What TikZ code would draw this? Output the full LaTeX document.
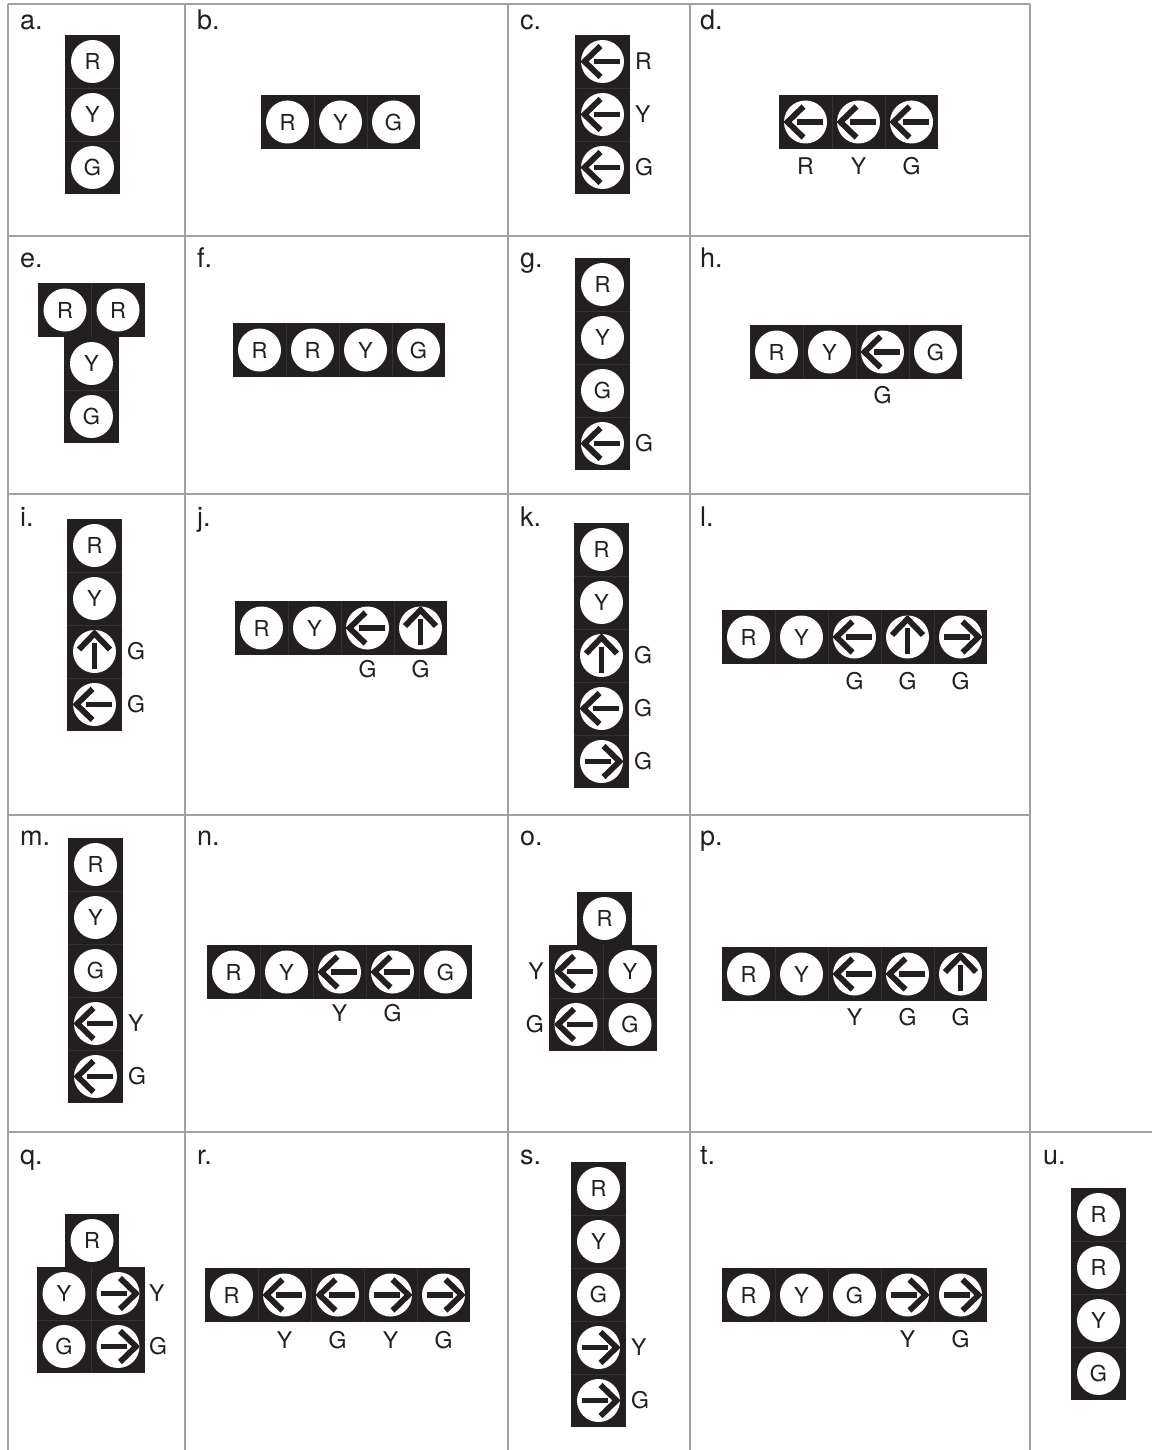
\documentclass[tikz,border=0pt]{standalone}
\usepackage{fontspec}
\setmainfont{TeX Gyre Heros}
\definecolor{ink}{HTML}{231F20}
\definecolor{gridc}{HTML}{A2A2A6}
\definecolor{sepc}{HTML}{333333}
\newcommand\Lamp[4]{\node[lamp] (#1) at (#2,#3) {#4};}
\newcommand\Arr[4]{\node[lamp] (#1) at (#2,#3) {}; \pic[rotate=#4] at (#1.center) {chev};}
% vertical housing: x0 y0 n
\newcommand\VH[3]{\fill[ink] (#1,#2) rectangle ++(55,53*#3);
  \foreach \k in {1,...,#3}{\ifnum\k<#3 \draw[sepline] (#1,#2+53*\k) -- ++(55,0);\fi}}
\newcommand\HH[3]{\fill[ink] (#1,#2) rectangle ++(53*#3,54);
  \foreach \k in {1,...,#3}{\ifnum\k<#3 \draw[sepline] (#1+53*\k,#2) -- ++(0,54);\fi}}
\begin{document}
\begin{tikzpicture}[x=1pt,y=-1pt,
  lamp/.style={circle,fill=white,minimum size=43pt,inner sep=0pt,font=\fontsize{22}{22}\selectfont,text=ink},
  lbl/.style={inner sep=0pt,font=\fontsize{23}{23}\selectfont,text=ink},
  plabel/.style={anchor=base west,inner sep=0pt,font=\fontsize{27}{27}\selectfont,text=ink},
  gridline/.style={draw=gridc,line width=2.5pt},
  sepline/.style={draw=sepc,line width=0.5pt},
  chev/.pic={
    \clip (0,0) circle (21.5);
    \draw[ink,line width=5.8pt,line join=miter] (-2,15.5) -- (-18,0) -- (-2,-15.5);
    \draw[ink,line width=5.8pt] (-9,0) -- (17,0);
  }
]
\fill[white] (0,0) rectangle (1152,1450);
\useasboundingbox (0,0) rectangle (1152,1450);
% grid
\foreach \gx in {8,185,508,690,1030} \draw[gridline] (\gx,4) -- (\gx,1450);
\foreach \gy in {4,236,494,815} \draw[gridline] (8,\gy) -- (1030,\gy);
\draw[gridline] (8,1132) -- (1152,1132);
% panel labels
\node[plabel] (la) at (20,30) {a.};
\node[plabel] (lb) at (197,30) {b.};
\node[plabel] (lc) at (520,30) {c.};
\node[plabel] (ld) at (700,30) {d.};
\node[plabel] (le) at (20,267) {e.};
\node[plabel] (lf) at (197,267) {f.};
\node[plabel] (lg) at (520,267) {g.};
\node[plabel] (lh) at (700,267) {h.};
\node[plabel] (li) at (20,526) {i.};
\node[plabel] (lj) at (197,526) {j.};
\node[plabel] (lk) at (520,526) {k.};
\node[plabel] (ll) at (700,526) {l.};
\node[plabel] (lm) at (20,845) {m.};
\node[plabel] (ln) at (197,845) {n.};
\node[plabel] (lo) at (520,845) {o.};
\node[plabel] (lp) at (700,845) {p.};
\node[plabel] (lq) at (20,1164) {q.};
\node[plabel] (lr) at (197,1164) {r.};
\node[plabel] (ls) at (520,1164) {s.};
\node[plabel] (lt) at (700,1164) {t.};
\node[plabel] (lu) at (1043,1164) {u.};
% a
\VH{65}{35}{3}
\Lamp{a1}{92.5}{61.5}{R}\Lamp{a2}{92.5}{114.5}{Y}\Lamp{a3}{92.5}{167.5}{G}
% b
\HH{261}{95}{3}
\Lamp{b1}{287.5}{122}{R}\Lamp{b2}{340.5}{122}{Y}\Lamp{b3}{393.5}{122}{G}
% c
\VH{575}{35}{3}
\Arr{c1}{602.5}{61.5}{0}\Arr{c2}{602.5}{114.5}{0}\Arr{c3}{602.5}{167.5}{0}
\node[lbl,anchor=west] (c1t) at (635,61.5) {R};
\node[lbl,anchor=west] (c2t) at (635,114.5) {Y};
\node[lbl,anchor=west] (c3t) at (635,167.5) {G};
% d
\HH{779}{95}{3}
\Arr{d1}{805.5}{122}{0}\Arr{d2}{858.5}{122}{0}\Arr{d3}{911.5}{122}{0}
\node[lbl] (d1t) at (805.5,166) {R};
\node[lbl] (d2t) at (858.5,166) {Y};
\node[lbl] (d3t) at (911.5,166) {G};
% e
\fill[ink] (38,283) rectangle (145,337);
\fill[ink] (64,337) rectangle (119,443);
\draw[sepline] (91.5,283) -- (91.5,337) (64,390) -- (119,390);
\Lamp{e1}{65}{310}{R}\Lamp{e2}{118}{310}{R}
\Lamp{e3}{91.5}{363.5}{Y}\Lamp{e4}{91.5}{416.5}{G}
% f
\HH{233}{323}{4}
\Lamp{f1}{259.5}{350}{R}\Lamp{f2}{312.5}{350}{R}\Lamp{f3}{365.5}{350}{Y}\Lamp{f4}{418.5}{350}{G}
% g
\VH{575}{258}{4}
\Lamp{g1}{602.5}{284.5}{R}\Lamp{g2}{602.5}{337.5}{Y}\Lamp{g3}{602.5}{390.5}{G}\Arr{g4}{602.5}{443.5}{0}
\node[lbl,anchor=west] (g4t) at (635,443.5) {G};
% h
\HH{750}{325}{4}
\Lamp{h1}{776.5}{352}{R}\Lamp{h2}{829.5}{352}{Y}\Arr{h3}{882.5}{352}{0}\Lamp{h4}{935.5}{352}{G}
\node[lbl] (h3t) at (882.5,395) {G};
% i
\VH{67}{519}{4}
\Lamp{i1}{94.5}{545.5}{R}\Lamp{i2}{94.5}{598.5}{Y}\Arr{i3}{94.5}{651.5}{-90}\Arr{i4}{94.5}{704.5}{0}
\node[lbl,anchor=west] (i3t) at (127,651.5) {G};
\node[lbl,anchor=west] (i4t) at (127,704.5) {G};
% j
\HH{235}{601}{4}
\Lamp{j1}{261.5}{628}{R}\Lamp{j2}{314.5}{628}{Y}\Arr{j3}{367.5}{628}{0}\Arr{j4}{420.5}{628}{-90}
\node[lbl] (j3t) at (367.5,669) {G};
\node[lbl] (j4t) at (420.5,669) {G};
% k
\VH{574}{523}{5}
\Lamp{k1}{601.5}{549.5}{R}\Lamp{k2}{601.5}{602.5}{Y}\Arr{k3}{601.5}{655.5}{-90}\Arr{k4}{601.5}{708.5}{0}\Arr{k5}{601.5}{761.5}{180}
\node[lbl,anchor=west] (k3t) at (634,655.5) {G};
\node[lbl,anchor=west] (k4t) at (634,708.5) {G};
\node[lbl,anchor=west] (k5t) at (634,761.5) {G};
% l
\HH{722}{610}{5}
\Lamp{l1}{748.5}{637}{R}\Lamp{l2}{801.5}{637}{Y}\Arr{l3}{854.5}{637}{0}\Arr{l4}{907.5}{637}{-90}\Arr{l5}{960.5}{637}{180}
\node[lbl] (l3t) at (854.5,681) {G};
\node[lbl] (l4t) at (907.5,681) {G};
\node[lbl] (l5t) at (960.5,681) {G};
% m
\VH{68}{838}{5}
\Lamp{m1}{95.5}{864.5}{R}\Lamp{m2}{95.5}{917.5}{Y}\Lamp{m3}{95.5}{970.5}{G}\Arr{m4}{95.5}{1023.5}{0}\Arr{m5}{95.5}{1076.5}{0}
\node[lbl,anchor=west] (m4t) at (128,1023.5) {Y};
\node[lbl,anchor=west] (m5t) at (128,1076.5) {G};
% n
\HH{207}{945}{5}
\Lamp{n1}{233.5}{972}{R}\Lamp{n2}{286.5}{972}{Y}\Arr{n3}{339.5}{972}{0}\Arr{n4}{392.5}{972}{0}\Lamp{n5}{445.5}{972}{G}
\node[lbl] (n3t) at (339.5,1013) {Y};
\node[lbl] (n4t) at (392.5,1013) {G};
% o
\fill[ink] (577,892) rectangle (632,945);
\fill[ink] (549,945) rectangle (657,1051);
\draw[sepline] (549,998) -- (657,998) (603,945) -- (603,1051);
\Lamp{o1}{604.5}{918.5}{R}
\Arr{o2}{576}{971.5}{0}\Lamp{o3}{630}{971.5}{Y}
\Arr{o4}{576}{1024.5}{0}\Lamp{o5}{630}{1024.5}{G}
\node[lbl,anchor=east] (o2t) at (544,971.5) {Y};
\node[lbl,anchor=east] (o4t) at (544,1024.5) {G};
% p
\HH{722}{947}{5}
\Lamp{p1}{748.5}{974}{R}\Lamp{p2}{801.5}{974}{Y}\Arr{p3}{854.5}{974}{0}\Arr{p4}{907.5}{974}{0}\Arr{p5}{960.5}{974}{-90}
\node[lbl] (p3t) at (854.5,1017) {Y};
\node[lbl] (p4t) at (907.5,1017) {G};
\node[lbl] (p5t) at (960.5,1017) {G};
% q
\fill[ink] (65,1214) rectangle (119,1267);
\fill[ink] (37,1267) rectangle (145,1373);
\draw[sepline] (37,1320) -- (145,1320) (91,1267) -- (91,1373);
\Lamp{q1}{92}{1240.5}{R}
\Lamp{q2}{64}{1293.5}{Y}\Arr{q3}{118}{1293.5}{180}
\Lamp{q4}{64}{1346.5}{G}\Arr{q5}{118}{1346.5}{180}
\node[lbl,anchor=west] (q3t) at (149,1293.5) {Y};
\node[lbl,anchor=west] (q5t) at (149,1346.5) {G};
% r
\HH{205}{1268}{5}
\Lamp{r1}{231.5}{1295}{R}\Arr{r2}{284.5}{1295}{0}\Arr{r3}{337.5}{1295}{0}\Arr{r4}{390.5}{1295}{180}\Arr{r5}{443.5}{1295}{180}
\node[lbl] (r2t) at (284.5,1340) {Y};
\node[lbl] (r3t) at (337.5,1340) {G};
\node[lbl] (r4t) at (390.5,1340) {Y};
\node[lbl] (r5t) at (443.5,1340) {G};
% s
\VH{571}{1162}{5}
\Lamp{s1}{598.5}{1188.5}{R}\Lamp{s2}{598.5}{1241.5}{Y}\Lamp{s3}{598.5}{1294.5}{G}\Arr{s4}{598.5}{1347.5}{180}\Arr{s5}{598.5}{1400.5}{180}
\node[lbl,anchor=west] (s4t) at (631,1347.5) {Y};
\node[lbl,anchor=west] (s5t) at (631,1400.5) {G};
% t
\HH{722}{1268}{5}
\Lamp{t1}{748.5}{1295}{R}\Lamp{t2}{801.5}{1295}{Y}\Lamp{t3}{854.5}{1295}{G}\Arr{t4}{907.5}{1295}{180}\Arr{t5}{960.5}{1295}{180}
\node[lbl] (t4t) at (907.5,1339) {Y};
\node[lbl] (t5t) at (960.5,1339) {G};
% u
\VH{1071}{1188}{4}
\Lamp{u1}{1098.5}{1214.5}{R}\Lamp{u2}{1098.5}{1267.5}{R}\Lamp{u3}{1098.5}{1320.5}{Y}\Lamp{u4}{1098.5}{1373.5}{G}
\end{tikzpicture}
\end{document}
